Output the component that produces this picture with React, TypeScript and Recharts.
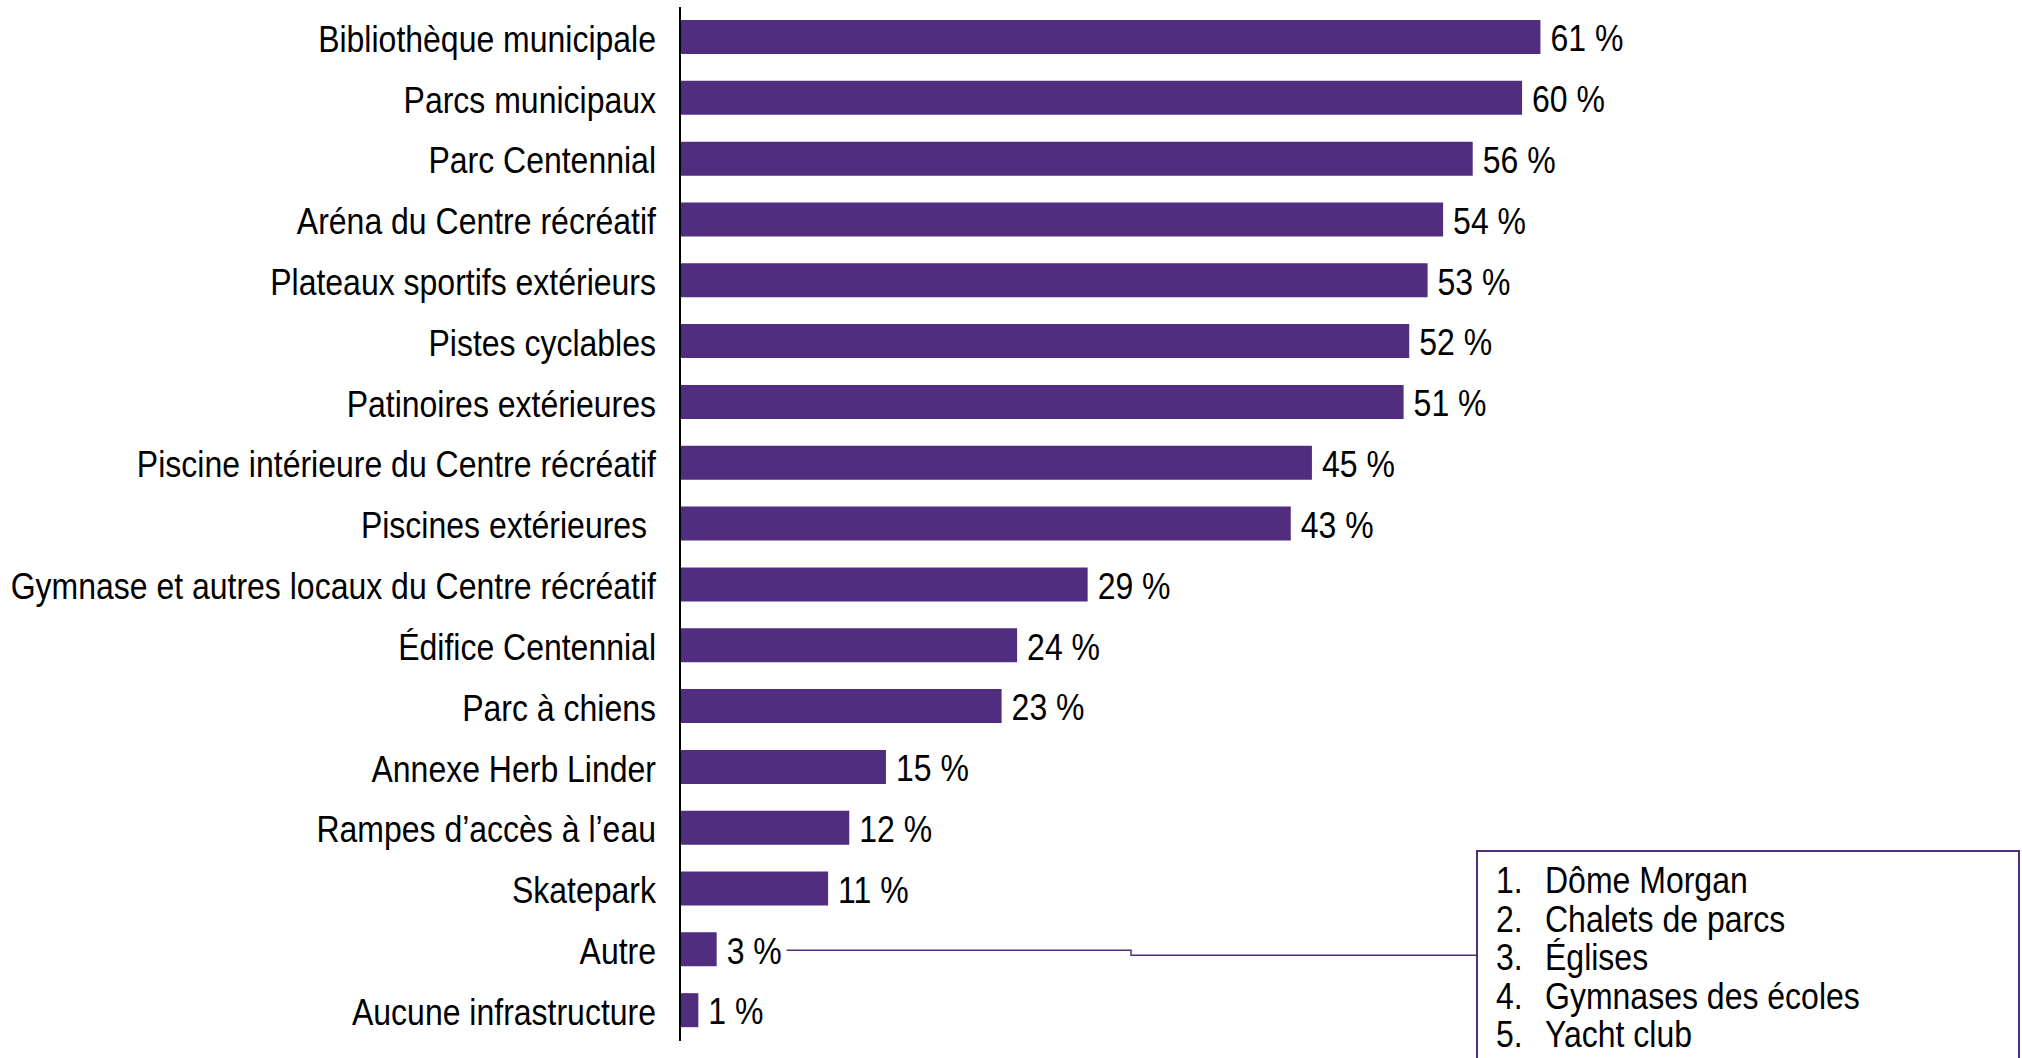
import React from "react";
import { BarChart, Bar, XAxis, YAxis, LabelList } from "recharts";

const categories = [
  "Bibliothèque municipale",
  "Parcs municipaux",
  "Parc Centennial",
  "Aréna du Centre récréatif",
  "Plateaux sportifs extérieurs",
  "Pistes cyclables",
  "Patinoires extérieures",
  "Piscine intérieure du Centre récréatif",
  "Piscines extérieures ",
  "Gymnase et autres locaux du Centre récréatif",
  "Édifice Centennial",
  "Parc à chiens",
  "Annexe Herb Linder",
  "Rampes d’accès à l’eau",
  "Skatepark",
  "Autre",
  "Aucune infrastructure",
];
// bar lengths (unrounded)
const values = [61, 59.7, 56.2, 54.1, 53.0, 51.7, 51.3, 44.8, 43.3, 28.9, 23.9, 22.8, 14.6, 12.0, 10.5, 2.6, 1.3];
// rounded percentages printed next to the bars
const valueLabels = [61, 60, 56, 54, 53, 52, 51, 45, 43, 29, 24, 23, 15, 12, 11, 3, 1];
const otherItems = ["Dôme Morgan", "Chalets de parcs", "Églises", "Gymnases des écoles", "Yacht club"];

const PURPLE = "#502D7E";
const FONT = "'Liberation Sans', Arial, sans-serif";
const STRETCH = 1.15;
const TEXT_DY = 1.5;

const rows = categories.map((name, i) => ({ name, value: values[i], label: valueLabels[i] }));
const otherIndex = categories.indexOf("Autre");

// callout box position (page px)
const BOX_LEFT = 1476;
const BOX_TOP = 850;

function CategoryTick({ x, y, payload }: any) {
  return (
    <text
      transform={`translate(${x},${Number(y) + TEXT_DY}) scale(1,${STRETCH})`}
      textAnchor="end"
      dominantBaseline="central"
      fontSize={32}
      fontFamily={FONT}
      fill="#000"
      style={{ whiteSpace: "pre" }}
    >
      {payload.value}
    </text>
  );
}

function ValueLabel(props: any) {
  const { x, y, width, height, index } = props;
  const tx = Number(x) + Number(width) + 10;
  const ty = Number(y) + Number(height) / 2;
  const label = (
    <text
      transform={`translate(${tx},${ty + TEXT_DY}) scale(1,${STRETCH})`}
      dominantBaseline="central"
      fontSize={32}
      fontFamily={FONT}
      fill="#000"
    >
      {`${valueLabels[index]} %`}
    </text>
  );
  if (index !== otherIndex) return label;
  const start = tx + 60;
  const mid = 1131;
  return (
    <g>
      {label}
      <polyline
        points={`${start},${ty + 1} ${mid},${ty + 1} ${mid},${ty + 6} ${BOX_LEFT},${ty + 6}`}
        fill="none"
        stroke={PURPLE}
        strokeWidth={1.5}
      />
    </g>
  );
}

export default function App() {
  return (
    <div style={{ position: "absolute", left: 0, top: 0, width: 2022, height: 1058, overflow: "hidden", fontFamily: FONT, background: "#fff" }}>
      <BarChart
        width={2022}
        height={1058}
        data={rows}
        layout="vertical"
        margin={{ top: 7, right: 2, bottom: 17, left: 0 }}
        barCategoryGap={0}
      >
        <XAxis type="number" domain={[0, 95]} hide />
        <YAxis
          type="category"
          dataKey="name"
          width={680}
          interval={0}
          tickLine={false}
          tickSize={0}
          tickMargin={24}
          axisLine={{ stroke: "#000", strokeWidth: 2 }}
          tick={<CategoryTick />}
        />
        <Bar dataKey="value" fill={PURPLE} barSize={34} isAnimationActive={false}>
          <LabelList dataKey="label" content={<ValueLabel />} />
        </Bar>
      </BarChart>
      <div
        style={{
          position: "absolute",
          left: BOX_LEFT,
          top: BOX_TOP,
          width: 2020 - BOX_LEFT,
          height: 260,
          border: `2px solid ${PURPLE}`,
          boxSizing: "border-box",
          paddingTop: 9,
        }}
      >
        {otherItems.map((item, i) => (
          <div
            key={item}
            style={{
              position: "relative",
              height: 38.5,
              lineHeight: "38.5px",
              fontSize: 32,
              color: "#000",
              transform: `scaleY(${STRETCH})`,
            }}
          >
            <span style={{ position: "absolute", left: 18 }}>{`${i + 1}.`}</span>
            <span style={{ position: "absolute", left: 67 }}>{item}</span>
          </div>
        ))}
      </div>
    </div>
  );
}
